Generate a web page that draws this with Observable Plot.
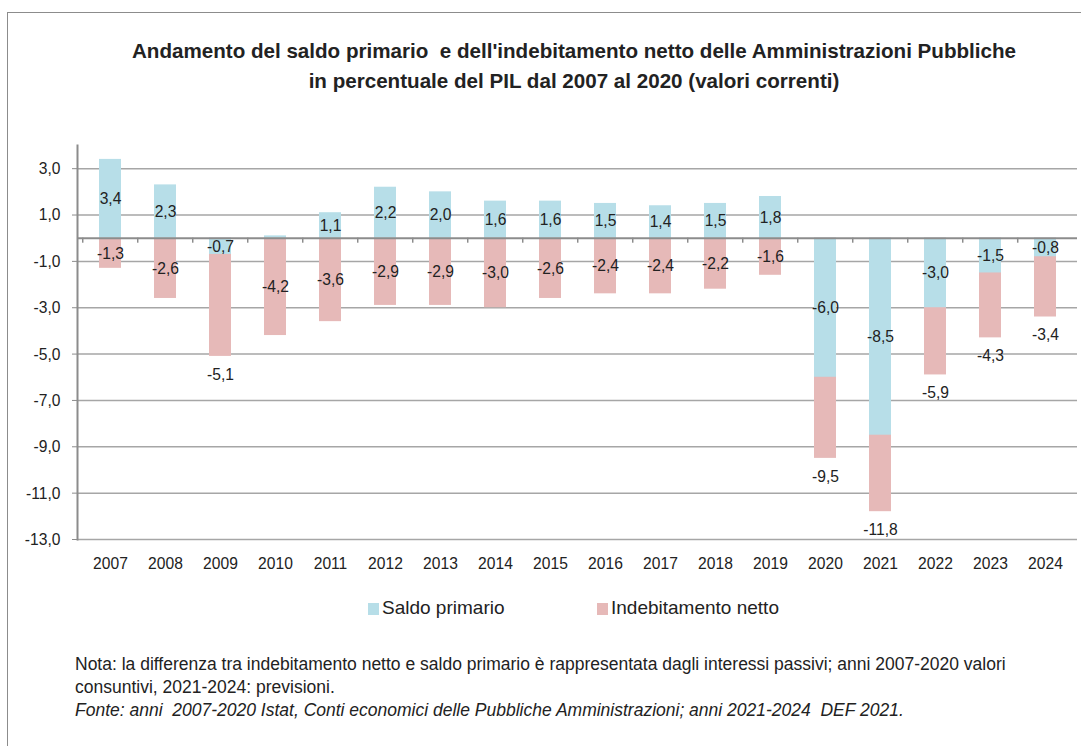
<!DOCTYPE html>
<html>
<head>
<meta charset="utf-8">
<script src="https://cdn.jsdelivr.net/npm/d3@7"></script>
<script src="https://cdn.jsdelivr.net/npm/@observablehq/plot@0.6"></script>
<style>
  html, body { margin: 0; padding: 0; background: #fff; }
  body { width: 1081px; height: 746px; position: relative; overflow: hidden;
         font-family: "Liberation Sans", Arial, sans-serif; color: #222; }
  #frame { position: absolute; left: 7px; top: 12px; width: 1100px; height: 800px;
           border-top: 1.5px solid #8c8c8c; border-left: 1.5px solid #8c8c8c; }
  #title { position: absolute; left: 74px; width: 1000px; top: 36px; text-align: center;
           font-weight: bold; font-size: 20.6px; line-height: 30px; color: #222; }
  #chart { position: absolute; left: 0; top: 130px; }
  #legend { position: absolute; top: 596px; left: 0; width: 1081px; height: 24px; font-size: 19px; }
  .li { position: absolute; top: 0; white-space: nowrap; line-height: 24px; }
  .sw { display: inline-block; width: 11px; height: 12px; margin-right: 3px; vertical-align: -1px; }
  #note { position: absolute; left: 75px; top: 653px; font-size: 17.5px; line-height: 23px; color: #222; }
  #note i { font-style: italic; }
</style>
</head>
<body>
<div id="frame"></div>
<div id="title">Andamento del saldo primario&nbsp; e dell'indebitamento netto delle Amministrazioni Pubbliche<br>in percentuale del PIL dal 2007 al 2020 (valori correnti)</div>
<div id="chart"></div>
<div id="legend"></div>
<div id="note">Nota: la differenza tra indebitamento netto e saldo primario è rappresentata dagli interessi passivi; anni 2007-2020 valori<br>consuntivi, 2021-2024: previsioni.<br><i>Fonte: anni&nbsp; 2007-2020 Istat, Conti economici delle Pubbliche Amministrazioni; anni 2021-2024&nbsp; DEF 2021.</i></div>
<script>
// ---- data ----
const years = ["2007","2008","2009","2010","2011","2012","2013","2014","2015","2016","2017","2018","2019","2020","2021","2022","2023","2024"];
const saldoPrimario = [3.4, 2.3, -0.7, 0.1, 1.1, 2.2, 2.0, 1.6, 1.6, 1.5, 1.4, 1.5, 1.8, -6.0, -8.5, -3.0, -1.5, -0.8];
const indebitamentoNetto = [-1.3, -2.6, -5.1, -4.2, -3.6, -2.9, -2.9, -3.0, -2.6, -2.4, -2.4, -2.2, -1.6, -9.5, -11.8, -5.9, -4.3, -3.4];
const yTicks = [3, 1, -1, -3, -5, -7, -9, -11, -13];
const seriesNames = ["Saldo primario", "Indebitamento netto"];
const seriesColors = ["#b7dee8", "#e6b9b8"];

// ---- table ----
const rows = years.map((y, i) => ({year: y, saldo: saldoPrimario[i], indeb: indebitamentoNetto[i]}));
const fmt = v => v.toFixed(1).replace(".", ",");

const W = 1081, H = 450, mL = 77, mR = 4, mT = 15, mB = 41;
const yDomain = [-13, 4];
const step = (W - mL - mR) / years.length;
const pxPerUnit = (H - mT - mB) / (yDomain[1] - yDomain[0]);
const fontFam = '"Liberation Sans", Arial, sans-serif';
const fs = 17;

const chart = Plot.plot({
  width: W, height: H,
  marginLeft: mL, marginRight: mR, marginTop: mT, marginBottom: mB,
  style: {fontFamily: fontFam, fontSize: fs + "px", color: "#222", background: "transparent"},
  x: {type: "band", domain: years, paddingInner: 0.6, paddingOuter: 0.3, label: null},
  y: {domain: yDomain, label: null},
  marks: [
    Plot.ruleY(yTicks, {stroke: "#a6a6a6", strokeWidth: 1.5}),
    Plot.barY(rows, {x: "year", y1: 0, y2: "indeb", fill: seriesColors[1]}),
    Plot.barY(rows, {x: "year", y1: 0, y2: "saldo", fill: seriesColors[0]}),
    Plot.ruleY([0], {stroke: "#8c8c8c", strokeWidth: 2}),
    Plot.ruleX(rows, {x: "year", y1: 0, y2: -5 / pxPerUnit, dx: -step / 2, stroke: "#8c8c8c", strokeWidth: 1.5}),
    Plot.frame({anchor: "left", stroke: "#8c8c8c", strokeWidth: 2}),
    Plot.axisY(yTicks, {tickFormat: fmt, tickSize: 5, tickPadding: 12, stroke: "#8c8c8c", fill: "#222", fontSize: fs}),
    Plot.axisX(years, {tickSize: 0, tickPadding: 17, fill: "#222", fontSize: fs}),
    Plot.text(rows.filter(d => Math.abs(d.saldo) >= 0.5), {x: "year", y: d => d.saldo / 2, text: d => fmt(d.saldo), fill: "#222", fontSize: fs}),
    Plot.text(rows, {x: "year", y: d => d.saldo < 0 ? d.indeb - 18 / pxPerUnit : d.indeb / 2, text: d => fmt(d.indeb), fill: "#222", fontSize: fs})
  ]
});

// slightly condense the text horizontally around each anchor point
chart.querySelectorAll("text").forEach(t => {
  const tr = t.getAttribute("transform") || "";
  t.setAttribute("transform", `${tr} scale(0.92,1)`);
});
document.getElementById("chart").appendChild(chart);

// legend
const legend = document.getElementById("legend");
const legendLeft = [368, 597];
seriesNames.forEach((n, i) => {
  const el = document.createElement("div");
  el.className = "li";
  el.style.left = legendLeft[i] + "px";
  el.innerHTML = `<span class="sw" style="background:${seriesColors[i]}"></span><span>${n}</span>`;
  legend.appendChild(el);
});
</script>
</body>
</html>
